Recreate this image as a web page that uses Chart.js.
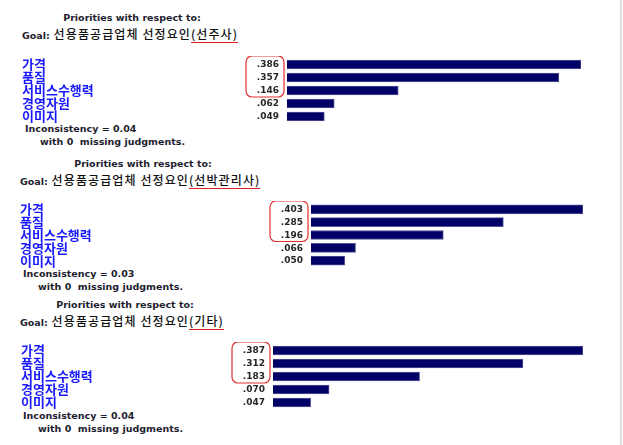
<!DOCTYPE html>
<html>
<head>
<meta charset="utf-8">
<script src="https://cdn.jsdelivr.net/npm/chart.js@4.4.1/dist/chart.umd.min.js"></script>
<style>
body { margin: 0; background: #fff; }
#page { position: relative; width: 623px; height: 445px; overflow: hidden; background: #fff; }
.t { position: absolute; white-space: nowrap; line-height: 14px; height: 14px; color: #1d1d2e; }
.pr { font: bold 9.5px "DejaVu Sans"; transform: translateX(-50%); }
.goal { font: 500 12px "Noto Sans CJK KR"; color: #111; letter-spacing: 1.1px; }
.goal b { font: bold 9.5px "DejaVu Sans"; color: #1d1d2e; letter-spacing: 0; }
.grp { border-bottom: 1.5px solid #e02020; }
.inc { font: bold 9.5px "DejaVu Sans"; }
canvas { position: absolute; left: 0; }
#edge { position: absolute; left: 620px; top: 0; width: 2px; height: 445px; background: #dedede; }
</style>
</head>
<body>
<div id="page"><div id="edge"></div></div>
<script>
// criteria and priorities per respondent group
const categories = ['가격', '품질', '서비스수행력', '경영자원', '이미지'];
const groupNames = ['선주사', '선박관리사', '기타'];
const shipownerValues = [0.386, 0.357, 0.146, 0.062, 0.049];
const shipManagerValues = [0.403, 0.285, 0.196, 0.066, 0.050];
const otherValues = [0.387, 0.312, 0.183, 0.070, 0.047];
const inconsistencyValues = [0.04, 0.03, 0.04];
const missingJudgments = [0, 0, 0];

const seriesList = [shipownerValues, shipManagerValues, otherValues];

// where each panel sits on the page
const panels = [
    {titleX: 132, titleY: 19, goalX: 22, goalY: 32, top: 56, h: 70, padTop: 2, padBottom: 3, labelX: 22, barStart: 287, barEnd: 581, incX: 25, incY: 130},
    {titleX: 143, titleY: 165, goalX: 20, goalY: 178, top: 201, h: 68, padTop: 2, padBottom: 2, labelX: 20, barStart: 311, barEnd: 583, incX: 23, incY: 275},
    {titleX: 125, titleY: 306, goalX: 20, goalY: 319, top: 342, h: 69, padTop: 2, padBottom: 2, labelX: 21, barStart: 273, barEnd: 583, incX: 23, incY: 417}
];

const page = document.getElementById('page');

function addText(cls, x, y, html) {
    const d = document.createElement('div');
    d.className = 't ' + cls;
    d.style.left = x + 'px';
    d.style.top = (y - 7) + 'px';
    d.innerHTML = html;
    page.appendChild(d);
}

function fmt(v) {
    return v.toFixed(3).replace(/^0/, '');
}

// values to the left of the bars + red box round the top three
const valuePlugin = {
    id: 'valueLabels',
    afterDatasetsDraw(chart) {
        const ctx = chart.ctx;
        const bars = chart.getDatasetMeta(0).data;
        const vals = chart.data.datasets[0].data;
        ctx.save();
        ctx.font = 'bold 9px "DejaVu Sans"';
        ctx.fillStyle = '#262626';
        ctx.textAlign = 'right';
        ctx.textBaseline = 'middle';
        bars.forEach((bar, i) => {
            ctx.fillText(fmt(vals[i]), bar.base - 8, bar.y + 0.5);
        });
        const x0 = bars[0].base - 41;
        const y0 = bars[0].y - 8.5;
        const y1 = bars[2].y + 6.5;
        ctx.strokeStyle = '#e23030';
        ctx.lineWidth = 1.2;
        ctx.beginPath();
        ctx.roundRect(x0, y0, 38, y1 - y0, 6);
        ctx.stroke();
        ctx.restore();
    }
};

panels.forEach((p, k) => {
    const values = seriesList[k];
    addText('pr', p.titleX, p.titleY, 'Priorities with respect to:');
    addText('goal', p.goalX, p.goalY, '<b>Goal:</b> 선용품공급업체 선정요인<span class="grp">(' + groupNames[k] + ')</span>');
    addText('inc', p.incX, p.incY, 'Inconsistency = ' + inconsistencyValues[k].toFixed(2));
    addText('inc', p.incX + 15, p.incY + 12.5, 'with ' + missingJudgments[k] + '&nbsp; missing judgments.');

    const canvas = document.createElement('canvas');
    canvas.style.top = p.top + 'px';
    canvas.width = 623;
    canvas.height = p.h;
    page.appendChild(canvas);

    new Chart(canvas.getContext('2d'), {
        type: 'bar',
        data: {
            labels: categories,
            datasets: [{
                data: values,
                backgroundColor: '#000066',
                borderColor: '#55559a',
                borderWidth: 1,
                barThickness: 9
            }]
        },
        options: {
            indexAxis: 'y',
            responsive: false,
            animation: false,
            layout: {padding: {left: p.labelX, right: 623 - p.barEnd, top: p.padTop, bottom: p.padBottom}},
            plugins: {legend: {display: false}, tooltip: {enabled: false}},
            scales: {
                x: {display: false, min: 0, max: Math.max(...values)},
                y: {
                    grid: {display: false},
                    border: {display: false},
                    afterFit: (scale) => {
                        scale.width = p.barStart - p.labelX;
                        scale.paddingTop = 0;
                        scale.paddingBottom = 0;
                    },
                    ticks: {
                        autoSkip: false,
                        crossAlign: 'far',
                        color: '#1a1aff',
                        font: {family: '"Noto Sans CJK KR"', size: 13, weight: 'bold', lineHeight: 1}
                    }
                }
            }
        },
        plugins: [valuePlugin]
    });
});
</script>
</body>
</html>
